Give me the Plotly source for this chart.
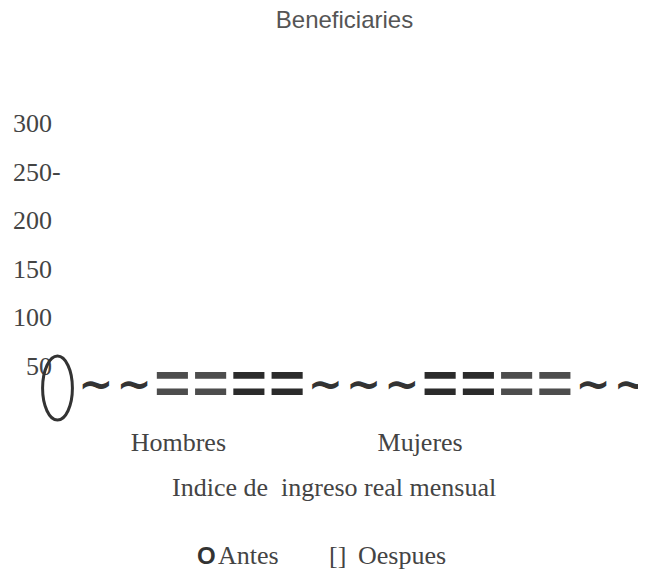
import plotly.graph_objects as go

# ---------------- data ----------------
glyph_positions = [0, 1, 2, 3, 4, 5, 6, 7, 8, 9, 10, 11, 12, 13, 14, 15]
glyph_marks = ["()", "~", "~", "=", "=", "=", "=", "~", "~", "~",
               "=", "=", "=", "=", "~", "~"]
glyph_values = [27, 27, 27, 27, 27, 27, 27, 27, 27, 27, 27, 27, 27, 27, 27, 27]
glyph_shades = ["#333333", "#333333", "#333333", "#4d4d4d", "#4d4d4d",
                "#2b2b2b", "#2b2b2b", "#333333", "#333333", "#333333",
                "#2b2b2b", "#2b2b2b", "#4d4d4d", "#4d4d4d", "#333333", "#333333"]

y_tick_values = [50, 100, 150, 200, 250, 300]
y_tick_labels = ["50", "100", "150", "200", "250", "300"]

group_names = ["Hombres", "Mujeres"]
group_positions = [3.16, 9.48]

series_names = ["Antes", "Oespues"]
chart_title = "Beneficiaries"
x_title = "Indice de\u00a0 ingreso real mensual"

SERIF = "Liberation Serif"
SANS = "Liberation Sans"
DEJAVU = "DejaVu Sans"

# figure / plot-area geometry (pixels, figure coordinates)
W, H = 646, 575
L, R = 32, 638
T, B = 95.6, 416.3

fig = go.Figure()

tilde_idx = [i for i, m in enumerate(glyph_marks) if m == "~"]
eq_idx = [i for i, m in enumerate(glyph_marks) if m == "="]

fig.add_trace(go.Scatter(
    x=[glyph_positions[i] for i in tilde_idx],
    y=[glyph_values[i] for i in tilde_idx],
    text=[glyph_marks[i] for i in tilde_idx],
    mode="text", textposition="middle center",
    textfont=dict(family=DEJAVU, size=42, weight="bold",
                  color=[glyph_shades[i] for i in tilde_idx]),
    name=series_names[0], showlegend=False, cliponaxis=False,
    hoverinfo="skip"))

fig.add_trace(go.Scatter(
    x=[glyph_positions[i] for i in eq_idx],
    y=[glyph_values[i] for i in eq_idx],
    text=[glyph_marks[i] for i in eq_idx],
    mode="text", textposition="middle center",
    textfont=dict(family=SANS, size=62, weight="bold",
                  color=[glyph_shades[i] for i in eq_idx]),
    name=series_names[1], showlegend=False, cliponaxis=False,
    hoverinfo="skip"))

# the oval glyph at the first position
oval_i = glyph_marks.index("()")
fig.add_shape(type="circle", xref="x", yref="y",
              x0=glyph_positions[oval_i] - 0.39, x1=glyph_positions[oval_i] + 0.39,
              y0=glyph_values[oval_i] - 33, y1=glyph_values[oval_i] + 33,
              line=dict(color="#333333", width=3), layer="above")

fig.update_layout(
    width=W, height=H,
    margin=dict(l=L, r=W - R, t=T, b=H - B),
    paper_bgcolor="white", plot_bgcolor="white",
    showlegend=False,
    title=dict(text=chart_title, x=336.5 / W, xref="container", xanchor="center",
               y=1 - 12 / H, yref="container", yanchor="middle",
               font=dict(family=SANS, size=24, color="#555555")),
    xaxis=dict(range=[-0.4575, 15.3856], showgrid=False, zeroline=False,
               showline=False, ticks="", tickvals=group_positions,
               ticktext=group_names, automargin=False,
               tickfont=dict(family=SERIF, size=26, color="#444444")),
    yaxis=dict(range=[-10, 320], showgrid=False, zeroline=False,
               showline=False, ticks="", tickvals=y_tick_values,
               ticktext=y_tick_labels, automargin=False,
               ticklabelstandoff=-13,
               tickfont=dict(family=SERIF, size=26, color="#444444")),
)

def px_to_paper_x(px):
    return (px - L) / (R - L)

def px_to_paper_y(py):
    return (B - py) / (B - T)

# hanging dash after the 250 label
fig.add_annotation(text="-", xref="paper", yref="y", x=px_to_paper_x(42), y=250,
                   xanchor="left", yanchor="middle", showarrow=False,
                   font=dict(family=SERIF, size=26, color="#444444"))

# axis title
fig.add_annotation(text=x_title, xref="paper", yref="paper",
                   x=px_to_paper_x(326), y=px_to_paper_y(480),
                   xanchor="center", yanchor="middle", showarrow=False,
                   font=dict(family=SERIF, size=26, color="#444444"))

# legend
leg_y = px_to_paper_y(548)
fig.add_annotation(text="<b>O</b>", xref="paper", yref="paper",
                   x=px_to_paper_x(198), y=leg_y, xanchor="center",
                   yanchor="middle", showarrow=False,
                   font=dict(family=SANS, size=24, color="#333333"))
fig.add_annotation(text=series_names[0], xref="paper", yref="paper",
                   x=px_to_paper_x(208), y=leg_y, xanchor="left", yanchor="middle",
                   showarrow=False, font=dict(family=SERIF, size=26, color="#444444"))
fig.add_annotation(text="[]", xref="paper", yref="paper",
                   x=px_to_paper_x(319), y=leg_y, xanchor="left", yanchor="middle",
                   showarrow=False, font=dict(family=SERIF, size=26, color="#444444"))
fig.add_annotation(text=series_names[1], xref="paper", yref="paper",
                   x=px_to_paper_x(348), y=leg_y, xanchor="left", yanchor="middle",
                   showarrow=False, font=dict(family=SERIF, size=26, color="#444444"))

fig.write_html("out.html")
